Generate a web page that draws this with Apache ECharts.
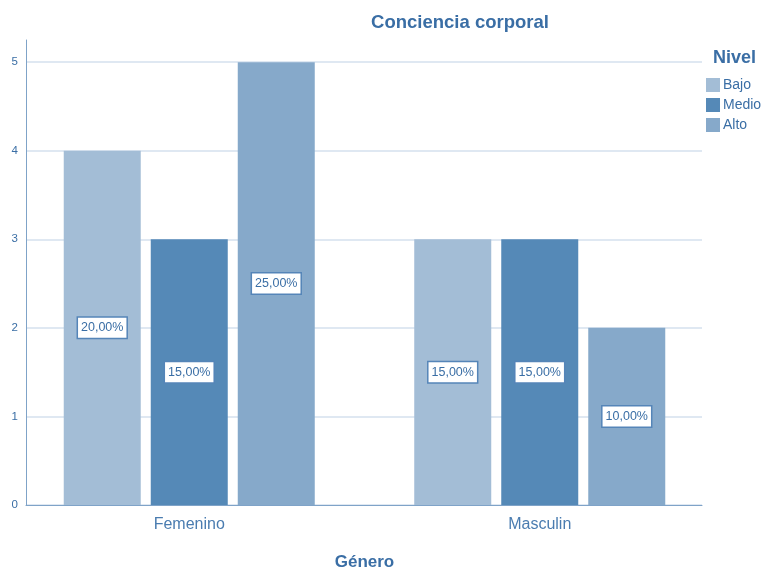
<!DOCTYPE html>
<html><head><meta charset="utf-8">
<script src="https://cdn.jsdelivr.net/npm/echarts@6/dist/echarts.min.js"></script>
<style>html,body{margin:0;padding:0;background:#fff}#c{width:764px;height:570px}</style>
</head><body><div id="c"></div>
<script>
const categories = ['Femenino', 'Masculin'];
const seriesNames = ['Bajo', 'Medio', 'Alto'];
const bajo = [4, 3];
const medio = [3, 3];
const alto = [5, 2];
const percentLabels = {
  Bajo: ['20,00%', '15,00%'],
  Medio: ['15,00%', '15,00%'],
  Alto: ['25,00%', '10,00%']
};
const yTicks = [0, 1, 2, 3, 4, 5];

const colors = { Bajo: '#a3bdd6', Medio: '#5589b7', Alto: '#86a9ca' };
const textColor = '#3a6ea5';
const values = { Bajo: bajo, Medio: medio, Alto: alto };

const chart = echarts.init(document.getElementById('c'));
chart.setOption({
  animation: false,
  backgroundColor: '#fff',
  title: {
    text: 'Conciencia corporal', left: 455, top: 8, textAlign: 'center',
    textStyle: { fontFamily: 'Arial, Liberation Sans', fontSize: 18.5, fontWeight: 'bold', color: textColor }
  },
  legend: {
    data: seriesNames, orient: 'vertical', left: 706, top: 78, padding: 0,
    itemWidth: 14, itemHeight: 14, itemGap: 6, icon: 'rect',
    textStyle: { fontFamily: 'Arial, Liberation Sans', fontSize: 14, color: textColor, padding: [0, 0, 0, -2] }
  },
  graphic: [{
    type: 'text', left: 713, top: 49,
    style: { text: 'Nivel', fontFamily: 'Arial, Liberation Sans', fontSize: 18, fontWeight: 'bold', fill: textColor }
  }],
  grid: [
    { left: 26, right: 62, top: 40, bottom: 65, outerBoundsMode: 'none', containLabel: false },
    { left: 14, width: 701, top: 40, bottom: 65, outerBoundsMode: 'none', containLabel: false }
  ],
  xAxis: [
    { gridIndex: 0, type: 'value', min: 0, max: 1, axisLine: { show: true, onZero: false, lineStyle: { color: '#7fa3c8', width: 1 } },
      axisTick: { show: false }, axisLabel: { show: false }, splitLine: { show: false } },
    { gridIndex: 1, type: 'category', data: categories,
      axisLine: { show: false }, axisTick: { show: false },
      axisLabel: { color: '#4a7cb0', fontFamily: 'Arial, Liberation Sans', fontSize: 16, margin: 12 },
      name: 'Género', nameLocation: 'middle', nameGap: 49,
      nameTextStyle: { color: textColor, fontFamily: 'Arial, Liberation Sans', fontSize: 17, fontWeight: 'bold' }
    }
  ],
  yAxis: [
    { gridIndex: 0, type: 'value', min: 0, max: 5.25, interval: 1,
      axisLine: { show: true, lineStyle: { color: '#7fa3c8', width: 1 } },
      axisTick: { show: false },
      axisLabel: { color: textColor, fontFamily: 'Arial, Liberation Sans', fontSize: 11.5, margin: 8,
        formatter: v => (yTicks.includes(v) ? String(v) : ''), showMaxLabel: false },
      splitLine: { show: true, showMaxLine: false, lineStyle: { color: '#d5e1ee', width: 1.5 } }
    },
    { gridIndex: 1, type: 'value', min: 0, max: 5.25, show: false, splitLine: { show: false } }
  ],
  series: seriesNames.map(name => ({
    name, type: 'bar', xAxisIndex: 1, yAxisIndex: 1,
    data: values[name], barWidth: 77, barGap: '13%',
    itemStyle: { color: colors[name] },
    label: {
      show: true, position: 'inside',
      formatter: p => percentLabels[name][p.dataIndex],
      backgroundColor: '#fff', borderColor: '#5585b8', borderWidth: 1.5,
      padding: [4, 3, 3, 3], color: textColor,
      fontFamily: 'Arial, Liberation Sans', fontSize: 12.5
    }
  }))
});
</script></body></html>
